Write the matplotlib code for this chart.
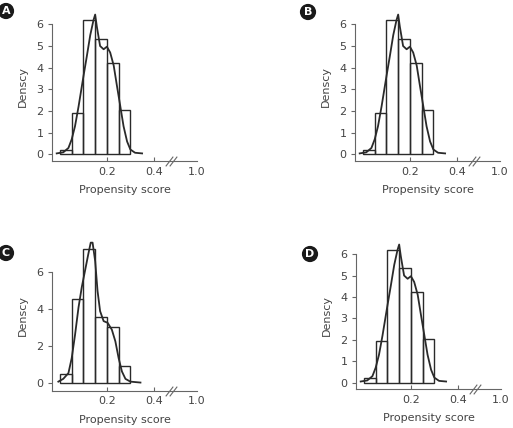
import matplotlib
matplotlib.use('Agg')
import matplotlib.pyplot as plt

plt.rcParams['font.family'] = ['Liberation Sans Narrow', 'DejaVu Sans']

# histogram bins and heights
bin_edges = [0.0, 0.05, 0.10, 0.15, 0.20, 0.25, 0.30]
heights_abd = [0.23, 1.92, 6.2, 5.33, 4.22, 2.05]
heights_c = [0.5, 4.55, 7.27, 3.6, 3.04, 0.96]

# density curves, traced points
kde_x_abd = [-0.014, 0.014, 0.036, 0.05, 0.064, 0.079, 0.10, 0.114, 0.129, 0.143, 0.15,
             0.157, 0.171, 0.186, 0.20, 0.214, 0.229, 0.243, 0.257, 0.271, 0.286, 0.30,
             0.32, 0.35]
kde_y_abd = [0.05, 0.1, 0.3, 0.7, 1.3, 2.2, 3.6, 4.5, 5.5, 6.2, 6.45,
             5.9, 5.0, 4.85, 4.97, 4.7, 4.1, 3.15, 2.23, 1.3, 0.6, 0.23,
             0.08, 0.05]
kde_x_c = [-0.007, 0.014, 0.036, 0.05, 0.064, 0.079, 0.093, 0.107, 0.121, 0.131, 0.139,
           0.15, 0.16, 0.171, 0.186, 0.203, 0.221, 0.236, 0.25, 0.264, 0.279, 0.30, 0.343]
kde_y_c = [0.09, 0.24, 0.55, 1.36, 2.6, 4.1, 5.2, 6.1, 7.0, 7.6, 7.6,
           6.6, 5.0, 3.9, 3.36, 3.27, 2.9, 2.27, 1.36, 0.64, 0.24, 0.09, 0.04]

xtick_pos = [0.2, 0.4, 0.584]   # 1.0 sits after the axis break
xtick_labels = ['0.2', '0.4', '1.0']
break_x = [0.464, 0.480]

W, H = 513, 428
fig = plt.figure(figsize=(W / 100, H / 100), dpi=100)

ink = '#2a2a2a'
grey = '#666666'


def panel(rect_px, ylim, yticks, heights, kx, ky, letter, letter_xy):
    l, t, r, b = rect_px
    ax = fig.add_axes([l / W, 1 - b / H, (r - l) / W, (b - t) / H])
    widths = [bin_edges[i + 1] - bin_edges[i] for i in range(len(heights))]
    ax.bar(bin_edges[:-1], heights, width=widths, align='edge', fill=False,
           edgecolor=ink, linewidth=1.0)
    ax.plot(kx, ky, color=ink, lw=1.3)
    ax.set_xlim(-0.034, 0.584)
    ax.set_ylim(*ylim)
    for s in ['top', 'right']:
        ax.spines[s].set_visible(False)
    ax.spines['left'].set_bounds(ylim[0], yticks[-1])
    ax.spines['bottom'].set_bounds(-0.034, 0.584)
    for s in ['left', 'bottom']:
        ax.spines[s].set_color(grey)
        ax.spines[s].set_linewidth(0.8)
    ax.set_yticks(yticks)
    ax.set_xticks(xtick_pos)
    ax.set_xticklabels(xtick_labels)
    ax.tick_params(axis='y', direction='out', length=3, width=0.8, color=grey,
                   labelsize=8, labelcolor='#444444', pad=3)
    ax.tick_params(axis='x', direction='in', length=3, width=0.8, color=grey,
                   labelsize=8, labelcolor='#444444', pad=4)
    ax.xaxis.get_major_ticks()[-1].tick1line.set_visible(False)
    # axis break: small gap with two slashes
    ax.plot(break_x, [ylim[0], ylim[0]], color='white', lw=1.6, clip_on=False,
            solid_capstyle='butt')
    ax.plot(break_x, [ylim[0], ylim[0]], linestyle='none', marker=[(-1, -1.3), (1, 1.3)],
            ms=7, mew=0.8, color=grey, clip_on=False)
    ax.set_ylabel('Denscy', fontsize=8, color='#444444', labelpad=6)
    ax.set_xlabel('Propensity score', fontsize=8, color='#444444', labelpad=6)
    fig.text(letter_xy[0] / W, 1 - letter_xy[1] / H, letter, ha='center', va='center',
             color='white', fontsize=8, fontweight='bold', family='DejaVu Sans',
             bbox=dict(boxstyle='circle,pad=0.28', fc='#1a1a1a', ec='none'))
    return ax


panel((52, 11.3, 197, 161), (-0.3, 6.6), [0, 1, 2, 3, 4, 5, 6],
      heights_abd, kde_x_abd, kde_y_abd, 'A', (6, 11))
panel((355, 11.3, 500, 161), (-0.3, 6.6), [0, 1, 2, 3, 4, 5, 6],
      heights_abd, kde_x_abd, kde_y_abd, 'B', (308, 12))
panel((52, 240.8, 197, 390.7), (-0.4, 7.7), [0, 2, 4, 6],
      heights_c, kde_x_c, kde_y_c, 'C', (6, 253))
panel((356, 241.3, 501, 389), (-0.3, 6.6), [0, 1, 2, 3, 4, 5, 6],
      heights_abd, kde_x_abd, kde_y_abd, 'D', (310, 254))

fig.savefig('out.png', dpi=100)
